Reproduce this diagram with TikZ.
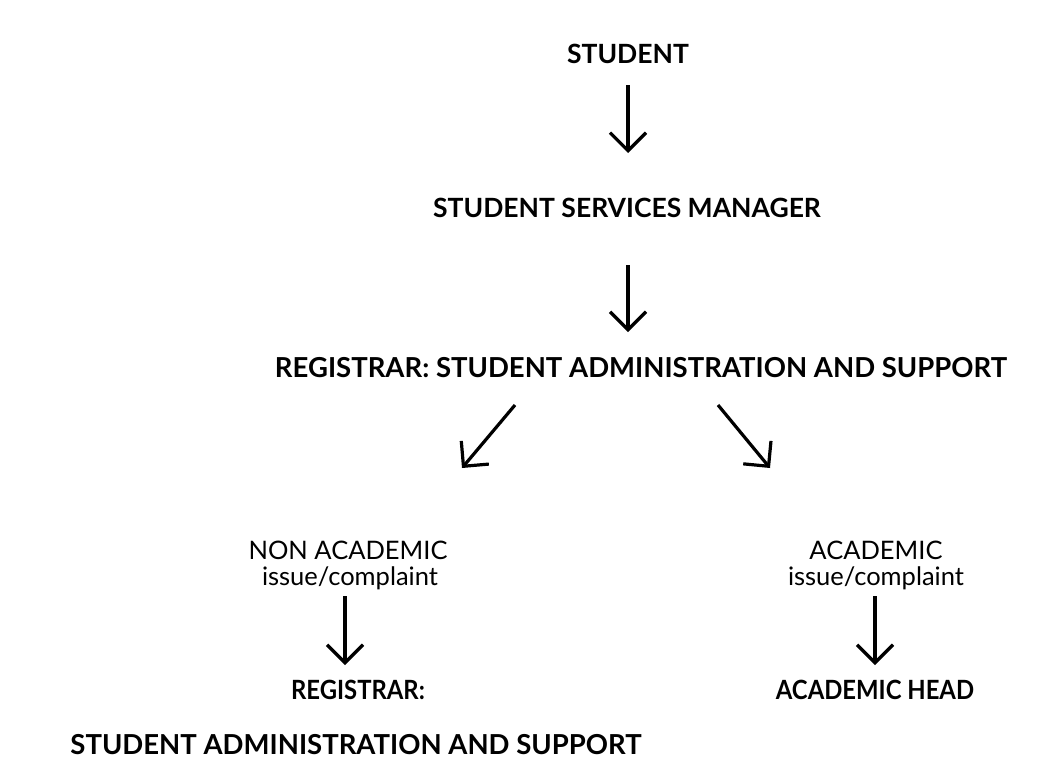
\documentclass[tikz,border=0pt]{standalone}
\usepackage{fontspec}
\usepackage{graphicx}
\setmainfont{Lato}
\usetikzlibrary{arrows.meta}
\newcommand{\narrowtext}[1]{\scalebox{0.9}[1]{#1}}
\begin{document}
\begin{tikzpicture}[x=1pt,y=-1pt,
  hd/.style={font=\fontsize{26.5}{30}\selectfont\bfseries, inner sep=0pt, anchor=center},
  hdw/.style={font=\fontsize{27.5}{30}\selectfont\bfseries, inner sep=0pt, anchor=center},
  md/.style={font=\fontsize{25.5}{28}\selectfont, inner sep=0pt, anchor=center},
  sub/.style={font=\fontsize{25.5}{28}\selectfont, inner sep=0pt, anchor=center},
  flow/.style={line width=3.2pt, -{Straight Barb[length=18pt,width=36pt,line width=3.2pt]}}]
\useasboundingbox (0,0) rectangle (1055,780);
\node[hd] (s) at (628,54) {STUDENT};
\node[hd] (ssm) at (627,208) {STUDENT SERVICES MANAGER};
\node[hdw] (reg) at (641,368) {REGISTRAR: STUDENT ADMINISTRATION AND SUPPORT};
\node[md] (na) at (348,550) {NON ACADEMIC};
\node[sub] (nai) at (350,578) {issue/complaint};
\node[md] (ac) at (876,550) {ACADEMIC};
\node[sub] (aci) at (876,578) {issue/complaint};
\node[hd] (reg2) at (358,690) {\narrowtext{REGISTRAR:}};
\node[hdw] (reg2b) at (356,745) {STUDENT ADMINISTRATION AND SUPPORT};
\node[hd] (ah) at (875,690) {\narrowtext{ACADEMIC HEAD}};
\coordinate (a1s) at (628,85); \coordinate (a1e) at (628,153);
\coordinate (a2s) at (628,265); \coordinate (a2e) at (628,332);
\coordinate (a3s) at (515,405); \coordinate (a3e) at (462,468);
\coordinate (a4s) at (718,405); \coordinate (a4e) at (770,468);
\coordinate (a5s) at (345,596); \coordinate (a5e) at (345,665);
\coordinate (a6s) at (875,596); \coordinate (a6e) at (875,665);
\draw[flow] (a1s) -- (a1e);
\draw[flow] (a2s) -- (a2e);
\draw[flow] (a3s) -- (a3e);
\draw[flow] (a4s) -- (a4e);
\draw[flow] (a5s) -- (a5e);
\draw[flow] (a6s) -- (a6e);
\end{tikzpicture}
\end{document}
